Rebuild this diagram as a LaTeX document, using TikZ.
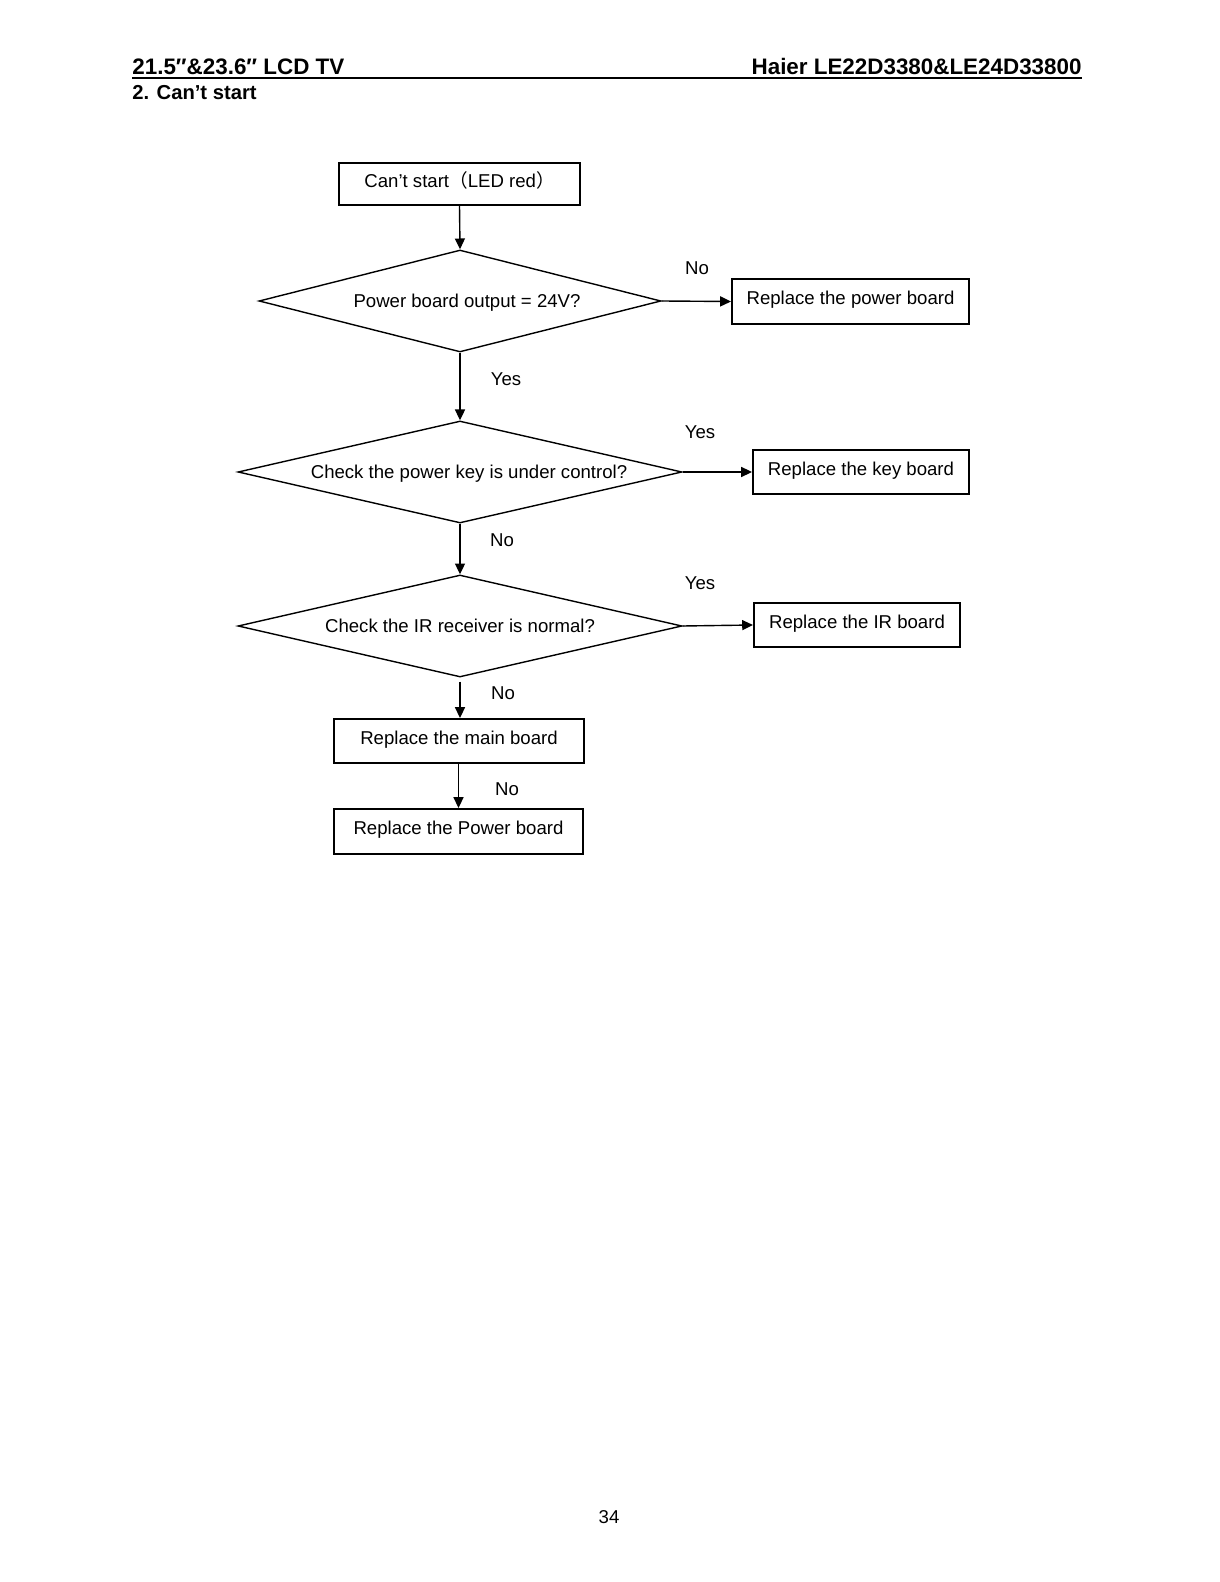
\documentclass[tikz,border=0pt]{standalone}
\usepackage{fontspec}
\setmainfont{Liberation Sans}
\newfontfamily\cjk{Noto Sans CJK SC}
\usetikzlibrary{shapes.geometric,arrows.meta}
\begin{document}
\begin{tikzpicture}[x=0.5pt,y=-0.5pt,
  box/.style={draw,line width=1pt,inner sep=0pt,text height=6.7pt,text depth=3.4pt,font=\fontsize{9.3pt}{11pt}\selectfont},
  dec/.style={draw,diamond,line width=0.7pt,inner sep=0pt,text height=6.7pt,text depth=0pt,font=\fontsize{9.3pt}{11pt}\selectfont},
  lab/.style={inner sep=0pt,font=\fontsize{9.3pt}{11pt}\selectfont},
  hdr/.style={inner sep=0pt,font=\bfseries\fontsize{11.2pt}{13pt}\selectfont},
  sub/.style={inner sep=0pt,font=\bfseries\fontsize{10.1pt}{12pt}\selectfont},
  conn/.style={line width=0.7pt,-{Triangle[length=5.4pt,width=5pt]}}]
\useasboundingbox[fill=white] (0,0) rectangle (1219,1582);
% header
\node[hdr,anchor=base west] (hl) at (132,75) {21.5″\&23.6″ LCD TV};
\node[hdr,anchor=base east] (hr) at (1082,75) {Haier LE22D3380\&LE24D33800};
\coordinate (ul) at (132,78);
\coordinate (ur) at (1082,78);
\draw[line width=1pt] (ul) -- (ur);
\node[sub,anchor=base west] (sec) at (132,100) {2. Can’t start};
% boxes
\node[box,minimum width=120.5pt,minimum height=21pt] (start) at (459.5,184) {Can’t start{\cjk （}LED red{\cjk ）}};
\node[dec,minimum width=201pt,minimum height=51pt,aspect=3.94] (d1) at (460,301) {\hspace*{7pt}Power board output = 24V?};
\node[box,minimum width=118.5pt,minimum height=22.5pt] (b2) at (850.5,301.5) {Replace the power board};
\node[dec,minimum width=222pt,minimum height=51pt,aspect=4.35] (d2) at (460,472) {\hspace*{9pt}Check the power key is under control?};
\node[box,minimum width=108pt,minimum height=22pt] (b3) at (861,472) {Replace the key board};
\node[dec,minimum width=222pt,minimum height=51pt,aspect=4.35] (d3) at (460,626) {Check the IR receiver is normal?};
\node[box,minimum width=103pt,minimum height=22pt] (b4) at (857,625) {Replace the IR board};
\node[box,minimum width=125pt,minimum height=22pt] (b5) at (459,741) {Replace the main board};
\node[box,minimum width=124.5pt,minimum height=22.5pt] (b6) at (458.5,831.5) {Replace the Power board};
% connectors
\draw[conn] (start.south) -- (d1.north);
\draw[conn] (d1.east) -- (b2.west);
\draw[conn] (d1.south) -- (d2.north);
\draw[conn] (d2.east) -- (b3.west);
\draw[conn] (d2.south) -- (d3.north);
\draw[conn] (d3.east) -- (b4.west);
\draw[conn,shorten <=2pt] (d3.south) -- (d3.south |- b5.north);
\draw[conn] (b5.south -| b6.north) -- (b6.north);
% labels
\node[lab] (l1) at (697,268) {No};
\node[lab] (l2) at (506,379) {Yes};
\node[lab] (l3) at (700,432) {Yes};
\node[lab] (l4) at (502,540) {No};
\node[lab] (l5) at (700,583) {Yes};
\node[lab] (l6) at (503,693) {No};
\node[lab] (l7) at (507,789) {No};
\node[lab] (page) at (609,1517) {34};
\end{tikzpicture}
\end{document}
